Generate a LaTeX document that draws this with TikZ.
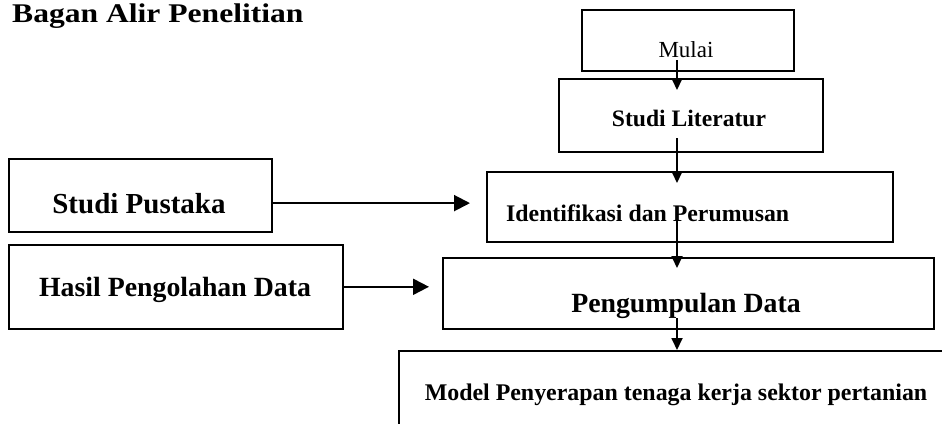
\documentclass[tikz,border=0pt]{standalone}
\usepackage{fontspec}
\setmainfont{Liberation Serif}
\usetikzlibrary{arrows.meta}
\newcommand{\fsz}[1]{\fontsize{#1}{#1}\selectfont}

\begin{document}
\begin{tikzpicture}[x=1pt,y=-1pt,
    kotak/.style={draw, line width=1.6pt, inner sep=0pt, anchor=north west},
    teks/.style={inner sep=0pt, font=\bfseries},
    panah/.style={line width=1.8pt, -{Triangle[length=12pt,width=11pt]}},
    panahh/.style={line width=2pt, -{Triangle[length=16pt,width=16pt]}}]
  \useasboundingbox (0,0) rectangle (942,423);
  \clip (0,0) rectangle (942,423);
  \node[teks, anchor=base west] (judul) at (12,22) {\scalebox{1.17}[1]{\fsz{27}Bagan Alir Penelitian}};
  % kotak
  \node[kotak, minimum width=212, minimum height=61] (mulai) at (581,9) {};
  \node[kotak, minimum width=264, minimum height=73] (lit) at (558,78) {};
  \node[kotak, minimum width=263, minimum height=73] (pustaka) at (8,158) {};
  \node[kotak, minimum width=406, minimum height=70] (ident) at (486,171) {};
  \node[kotak, minimum width=334, minimum height=84] (hasil) at (8,244) {};
  \node[kotak, minimum width=491, minimum height=71] (kumpul) at (442,257) {};
  \node[kotak, minimum width=600, minimum height=120] (model) at (398,350) {};
  % teks
  \node[inner sep=0pt, anchor=base] (mulaiT) at (686,57) {\fsz{23}Mulai};
  \node[teks, anchor=base] (litT) at (689,126) {\fsz{23.6}Studi Literatur};
  \node[teks, anchor=base] (pustakaT) at (139,213) {\fsz{29}Studi Pustaka};
  \node[teks, anchor=base west] (identT) at (506,221) {\fsz{23.8}Identifikasi dan Perumusan};
  \node[teks, anchor=base] (hasilT) at (175,296) {\fsz{27.8}Hasil Pengolahan Data};
  \node[teks, anchor=base] (kumpulT) at (686,312) {\fsz{27.8}Pengumpulan Data};
  \node[teks, anchor=base] (modelT) at (676,400) {\fsz{23.9}Model Penyerapan tenaga kerja sektor pertanian};
  % panah
  \coordinate (jalur) at (677,0);
  \draw[panah] ([yshift=-3pt]mulaiT.south -| jalur) -- ([yshift=-12pt]lit.north -| jalur);
  \draw[panah] ([yshift=-12pt]litT.south -| jalur) -- ([yshift=-12pt]ident.north -| jalur);
  \draw[panahh] (pustakaT.east -| pustaka.east) -- ([xshift=-16pt]pustakaT.east -| ident.west);
  \draw[panah] ([yshift=5pt]identT.center -| jalur) -- ([yshift=-11pt]kumpul.north -| jalur);
  \draw[panahh] (hasil.east) -- ([xshift=-13pt]hasil.east -| kumpul.west);
  \draw[panah] (kumpulT.south -| jalur) -- (model.north -| jalur);
\end{tikzpicture}
\end{document}
